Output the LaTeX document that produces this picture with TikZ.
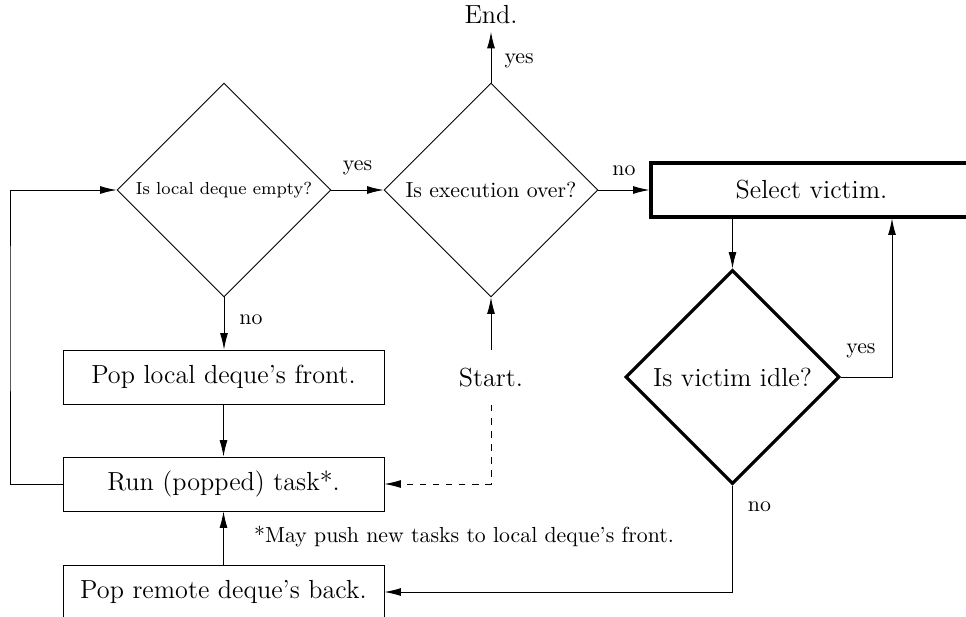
\documentclass[tikz,border=0pt]{standalone}
\usetikzlibrary{shapes.geometric,arrows.meta}
\newcommand\pxu{0.4587pt}
\begin{document}
\begin{tikzpicture}[x=0.4587pt,y=-0.4587pt,
  box/.style={draw, line width=0.4pt, minimum width=321*\pxu, minimum height=54*\pxu, inner sep=0pt, font=\large},
  thickbox/.style={box, line width=1.4pt},
  dec/.style={diamond, draw, aspect=1, line width=0.4pt, minimum width=214*\pxu, minimum height=214*\pxu, inner sep=0pt},
  arr/.style={-{Latex[length=7.5pt,width=3.6pt]}, line width=0.4pt},
  lab/.style={font=\normalsize, inner sep=0pt}
]
\useasboundingbox (0,0) rectangle (966,616);
\clip (0,0) rectangle (966,616);
% nodes
\node[dec, font=\footnotesize] (d1) at (224,190) {Is local deque empty?};
\node[dec] (d2) at (491,190) {Is execution over?};
\node[dec, line width=1.4pt, font=\large] (d3) at (732.5,377) {Is victim idle?};
\node[thickbox] (sel) at (811.5,190) {Select victim.};
\node[box] (loc) at (223.5,377) {Pop local deque's front.};
\node[box] (run) at (223.5,484) {Run (popped) task*.};
\node[box] (rem) at (223.5,592) {Pop remote deque's back.};
\node[font=\large, minimum height=54*\pxu, inner sep=0pt] (start) at (491,377.5) {Start.};
\node[font=\large] (end) at (491,15) {End.};
\node[font=\normalsize] (fn) at (464,537) {*May push new tasks to local deque's front.};
\coordinate (c1) at (892,377);
\coordinate (lp) at (10,300);
% connectors
\draw[arr] (d1.east) -- node[lab, above=6.5pt] {yes} (d2.west);
\draw[arr] (d2.east) -- node[lab, above=6.5pt] {no} (sel.west);
\draw[arr] (d2.north) -- node[lab, pos=0.42, right=6pt] {yes} (end.south);
\draw[arr] (d1.south) -- node[lab, pos=0.43, right=6.9pt] {no} (d1.south |- loc.north);
\draw[arr] (loc.south) -- (run.north);
\draw[arr] (rem.north) -- (run.south);
\draw[arr] (run.west) -| (lp) |- (d1.west);
\draw[arr] (start.north) -- (d2.south);
\draw[arr, dashed] (start.south) |- (run.east);
\draw[arr] (d3.north |- sel.south) -- (d3.north);
\draw[arr] (d3.east) -- node[lab, pos=0.39, above=8.7pt] {yes} (c1) -- (c1 |- sel.south);
\draw[arr] (d3.south) -- node[lab, pos=0.2, right=6.9pt] {no} (d3.south |- rem.east) -- (rem.east);
\end{tikzpicture}
\end{document}
